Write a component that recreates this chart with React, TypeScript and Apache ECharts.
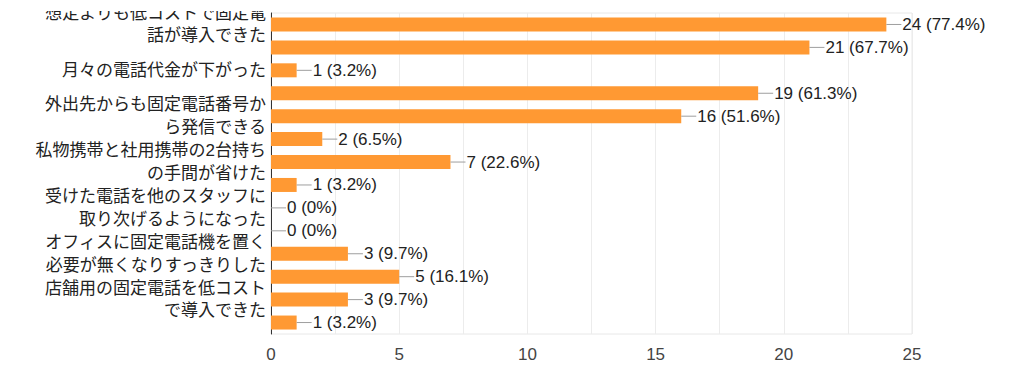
import React, { useEffect, useRef } from "react";
import * as echarts from "echarts";

// Categories (top to bottom). Only every other label is visible in the reference.
const categories: string[] = [
  "想定よりも低コストで固定電\n話が導入できた",
  "項目2",
  "月々の電話代金が下がった",
  "項目4",
  "外出先からも固定電話番号か\nら発信できる",
  "項目6",
  "私物携帯と社用携帯の2台持ち\nの手間が省けた",
  "項目8",
  "受けた電話を他のスタッフに\n取り次げるようになった",
  "項目10",
  "オフィスに固定電話機を置く\n必要が無くなりすっきりした",
  "項目12",
  "店舗用の固定電話を低コスト\nで導入できた",
  "項目14",
];

const counts: number[] = [24, 21, 1, 19, 16, 2, 7, 1, 0, 0, 3, 5, 3, 1];
const percents: string[] = [
  "77.4%", "67.7%", "3.2%", "61.3%", "51.6%", "6.5%", "22.6%",
  "3.2%", "0%", "0%", "9.7%", "16.1%", "9.7%", "3.2%",
];

const xTicks: number[] = [0, 5, 10, 15, 20, 25];

const FONT = "'Liberation Sans', 'Noto Sans CJK JP', sans-serif";

export default function App() {
  const ref = useRef<HTMLDivElement>(null);
  useEffect(() => {
    if (!ref.current) return;
    const chart = echarts.init(ref.current, undefined, { renderer: "svg" });
    chart.setOption({
      animation: false,
      backgroundColor: "#ffffff",
      grid: {
        left: 271,
        right: 112,
        top: 13,
        bottom: 58,
        show: true,
        borderColor: "#e8e8e8",
        borderWidth: 1,
      },
      xAxis: {
        type: "value",
        min: 0,
        max: 25,
        interval: 2.5,
        axisLine: { show: false },
        axisTick: { show: false },
        splitLine: { show: true, lineStyle: { color: "#ececec", width: 1 } },
        axisLabel: {
          margin: 12,
          fontSize: 17,
          color: "#444",
          fontFamily: FONT,
          formatter: (v: number) => (xTicks.indexOf(v) >= 0 ? String(v) : ""),
        },
      },
      yAxis: {
        type: "category",
        inverse: true,
        data: categories,
        axisTick: { show: false },
        axisLine: { show: true, lineStyle: { color: "#333", width: 1 } },
        splitLine: { show: false },
        axisLabel: {
          interval: 1,
          hideOverlap: false,
          margin: 5,
          fontSize: 17,
          lineHeight: 22.8,
          color: "#222",
          fontFamily: FONT,
          align: "right",
        },
      },
      graphic: [
        {
          type: "rect",
          left: 0,
          top: 0,
          z: 100,
          shape: { width: 269, height: 11 },
          style: { fill: "#ffffff" },
        },
      ],
      series: [
        {
          type: "bar",
          data: counts,
          barWidth: 14,
          itemStyle: { color: "#ff9933" },
          label: {
            show: true,
            position: "right",
            distance: 0,
            formatter: (p: any) =>
              `{l| }{t|${counts[p.dataIndex]} (${percents[p.dataIndex]})}`,
            rich: {
              l: { width: 15, height: 1, backgroundColor: "#9e9e9e" },
              t: { fontSize: 17, color: "#222", fontFamily: FONT, padding: [0, 0, 0, 1] },
            },
          },
        },
      ],
    });
    return () => chart.dispose();
  }, []);
  return (
    <div
      ref={ref}
      style={{ position: "fixed", left: 0, top: 0, width: 1024, height: 392 }}
    />
  );
}
